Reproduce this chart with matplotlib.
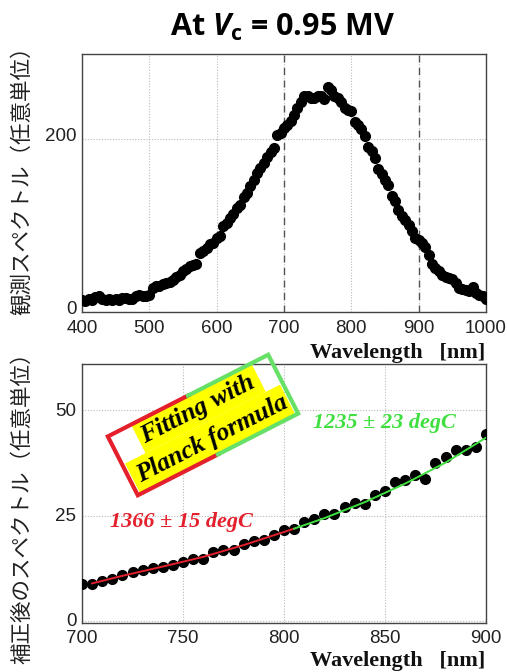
import matplotlib
matplotlib.use("Agg")
import matplotlib.pyplot as plt
import numpy as np
from matplotlib.lines import Line2D
from matplotlib.patches import Polygon
from matplotlib.transforms import ScaledTranslation

# ---------------- data ----------------
obs_wl = list(range(400, 1001, 5))
obs_val = [14, 13, 15, 14, 17, 18, 15, 14, 15, 14,
           15, 14, 16, 16, 15, 15, 18, 20, 18, 19,
           20, 28, 30, 30, 32, 33, 35, 37, 40, 43,
           47, 50, 53, 54, 56, 68, 70, 74, 78, 80,
           85, 88, 99, 103, 108, 113, 120, 124, 133, 138,
           146, 153, 160, 166, 172, 179, 185, 190, 205, 207,
           212, 216, 221, 228, 236, 243, 249, 249, 247, 247,
           249, 250, 246, 260, 256, 249, 247, 242, 236, 233,
           232, 220, 216, 211, 203, 191, 186, 178, 165, 159,
           152, 147, 134, 128, 118, 111, 106, 100, 93, 86,
           83, 80, 75, 66, 55, 51, 47, 43, 40, 39,
           38, 33, 28, 26, 25, 24, 29, 22, 20, 18,
           15]

cor_wl = list(range(700, 901, 5))
cor_val = [8.7, 8.7, 9.5, 10.0, 10.8, 11.6, 12.0, 12.5, 12.8, 13.2,
           13.9, 14.6, 14.6, 16.4, 16.9, 16.9, 18.3, 18.9, 19.3, 20.5,
           21.7, 21.8, 23.5, 24.3, 25.3, 25.3, 27.0, 28.0, 27.8, 29.9,
           30.9, 32.9, 33.5, 34.6, 33.7, 37.5, 38.8, 40.6, 40.6, 41.2,
           44.3]

fit_red_wl = [705, 720, 740, 760, 780, 805]
fit_red_val = [8.9, 10.7, 12.9, 15.2, 18.0, 21.9]
fit_green_wl = [805, 820, 840, 860, 880, 900]
fit_green_val = [21.9, 24.4, 28.2, 32.6, 37.6, 43.5]

top_xticks = [400, 500, 600, 700, 800, 900, 1000]
top_yticks = [0, 200]
bot_xticks = [700, 750, 800, 850, 900]
bot_yticks = [0, 25, 50]

title_text = r"At $\mathbf{\mathit{V}}_{\mathbf{c}}$ = 0.95 MV"
ylabel_top = "観測スペクトル（任意単位）"
ylabel_bot = "補正後のスペクトル（任意単位）"
xlabel_text = "Wavelength   [nm]"
red_label = "1366 ± 15 degC"
green_label = "1235 ± 23 degC"
box_lines = ["Fitting with", "Planck formula"]

# ---------------- style ----------------
RED = "#e3202c"
GREEN = "#3fdf3f"
BOX_GREEN = "#66e066"
W, H = 508, 672

plt.rcParams['font.family'] = ['Liberation Sans', 'DejaVu Sans']
plt.rcParams['mathtext.fontset'] = 'custom'
plt.rcParams['mathtext.it'] = 'Open Sans:italic:bold'
plt.rcParams['mathtext.bf'] = 'Open Sans:bold'
plt.rcParams['mathtext.rm'] = 'Open Sans:bold'

fig = plt.figure(figsize=(W / 100, H / 100), dpi=100)

def fx(px):
    return px / W

def fy(py):
    return 1 - py / H

ax1 = fig.add_axes([fx(82), fy(312), fx(486) - fx(82), fy(54) - fy(312)])
ax2 = fig.add_axes([fx(82), fy(623), fx(486) - fx(82), fy(364) - fy(623)])

def style_axes(ax):
    for s in ax.spines.values():
        s.set_color('#444444')
        s.set_linewidth(1.0)
    ax.tick_params(length=0, labelsize=13.5, colors='#222222', pad=4)
    ax.grid(True, linestyle=(0, (1, 1.5)), color='#b8b8b8', linewidth=0.8)
    ax.set_axisbelow(True)

# top panel
style_axes(ax1)
ax1.plot(obs_wl, obs_val, 'o', color='black', markersize=7, zorder=3)
ax1.set_xlim(400, 1000)
ax1.set_ylim(0, 298)
ax1.set_xticks(top_xticks)
ax1.set_yticks(top_yticks)
for xv in (700, 900):
    ax1.axvline(xv, color='#555555', linestyle=(0, (5, 4)), linewidth=1.0, zorder=2)
ax1.tick_params(axis='x', pad=5.5)
shift_up = ScaledTranslation(0, 4 / 100, fig.dpi_scale_trans)
for lab in ax1.get_yticklabels():
    lab.set_transform(lab.get_transform() + shift_up)

# bottom panel
style_axes(ax2)
ax2.plot(cor_wl, cor_val, 'o', color='black', markersize=7, zorder=3)
ax2.plot(fit_red_wl, fit_red_val, '-', color=RED, linewidth=1.4, zorder=4)
ax2.plot(fit_green_wl, fit_green_val, '-', color=GREEN, linewidth=1.4, zorder=4)
ax2.set_xlim(700, 900)
ax2.set_ylim(-0.5, 61)
ax2.set_xticks(bot_xticks)
ax2.set_yticks(bot_yticks)
ax2.tick_params(axis='x', pad=5)
shift_up2 = ScaledTranslation(0, 1 / 100, fig.dpi_scale_trans)
for lab in ax2.get_yticklabels():
    lab.set_transform(lab.get_transform() + shift_up2)

# title
fig.text(fx(283), fy(27), title_text, ha='center', va='center', fontsize=22,
         family='Open Sans', fontweight='bold', color='black')

# y labels
fig.text(fx(22), fy(175), ylabel_top, rotation=90, ha='center', va='center',
         fontsize=15.5, family=['Noto Sans CJK JP', 'DejaVu Sans'], color='#222222')
fig.text(fx(22), fy(503), ylabel_bot, rotation=90, ha='center', va='center',
         fontsize=15.5, family=['Noto Sans CJK JP', 'DejaVu Sans'], color='#222222')

# x labels
fig.text(fx(485), fy(353), xlabel_text, ha='right', va='center', fontsize=16,
         family='Liberation Serif', fontweight='bold', color='#111111')
fig.text(fx(485), fy(671), xlabel_text, ha='right', va='bottom', fontsize=16,
         family='Liberation Serif', fontweight='bold', color='#111111')

# fit annotations
fig.text(fx(110), fy(522), red_label, ha='left', va='center', fontsize=16,
         family='Liberation Serif', fontweight='bold', style='italic', color=RED)
fig.text(fx(313), fy(423), green_label, ha='left', va='center', fontsize=16,
         family='Liberation Serif', fontweight='bold', style='italic', color=GREEN)

# rotated box
ang = np.deg2rad(27)
c, s = np.cos(ang), np.sin(ang)
cx, cy = 203, 247  # display pixel coordinates (y up)

def loc(lx, ly):
    return (cx + lx * c - ly * s) / W, (cy + lx * s + ly * c) / H

def rect(x0, x1, y0, y1, **kw):
    pts = [loc(x0, y0), loc(x1, y0), loc(x1, y1), loc(x0, y1)]
    return Polygon(pts, closed=True, transform=fig.transFigure, **kw)

fig.patches.append(rect(-64, 71, 1, 33, facecolor='#ffff00', edgecolor='none', zorder=5))
fig.patches.append(rect(-87, 87, -33, 1, facecolor='#ffff00', edgecolor='none', zorder=5))

hw, hh = 90, 33
red_pts = [loc(0, hh), loc(-hw, hh), loc(-hw, -hh), loc(0, -hh)]
green_pts = [loc(0, -hh), loc(hw, -hh), loc(hw, hh), loc(0, hh)]
for pts, col in ((red_pts, RED), (green_pts, BOX_GREEN)):
    xs, ys = zip(*pts)
    fig.add_artist(Line2D(xs, ys, color=col, linewidth=3.0, transform=fig.transFigure,
                          solid_joinstyle='miter', zorder=6))

for i, txt in enumerate(box_lines):
    ly = 17 if i == 0 else -17
    px, py = loc(2, ly)
    fig.text(px, py, txt, rotation=27, rotation_mode='anchor', ha='center', va='center',
             fontsize=18.5, family='Liberation Serif', fontweight='bold', style='italic',
             color='black', zorder=7)

fig.savefig('out.png', dpi=100)
